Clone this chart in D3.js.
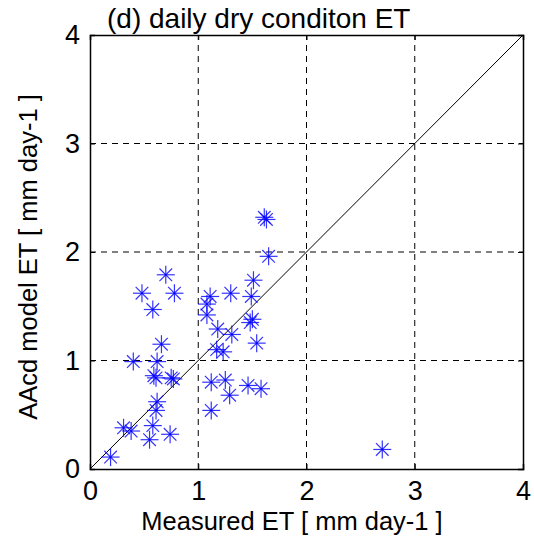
<!DOCTYPE html>
<html>
<head>
<meta charset="utf-8">
<script src="https://cdn.jsdelivr.net/npm/d3@7"></script>
<style>
body { margin: 0; background: #fff; }
text { font-family: "Liberation Sans", Arial, sans-serif; }
</style>
</head>
<body>
<div id="chart"></div>
<script>
var width = 534;
var height = 538;

// Data
var measured = [1.65, 0.70, 1.51, 0.48, 0.78, 1.11, 1.30, 1.49, 1.08, 0.58,
                1.08, 1.50, 1.48, 1.18, 1.31, 0.66, 1.54, 1.17, 1.23, 0.40,
                0.62, 0.59, 0.61, 0.75, 0.77, 1.12, 1.25, 1.46, 1.58, 1.29,
                0.62, 0.61, 1.12, 0.31, 0.38, 0.58, 0.55, 0.74, 0.19, 2.70,
                1.61, 1.63];
var modeled  = [1.96, 1.79, 1.74, 1.62, 1.62, 1.59, 1.62, 1.59, 1.52, 1.47,
                1.42, 1.38, 1.35, 1.29, 1.24, 1.15, 1.16, 1.10, 1.08, 0.99,
                0.99, 0.86, 0.84, 0.84, 0.83, 0.80, 0.82, 0.77, 0.74, 0.68,
                0.62, 0.54, 0.54, 0.38, 0.35, 0.40, 0.27, 0.32, 0.11, 0.18,
                2.32, 2.30];
var tickValues = [0, 1, 2, 3, 4];

var margin = {left: 90, right: 11, top: 35, bottom: 69};

var svg = d3.select("#chart")
    .append("svg")
    .attr("width", width)
    .attr("height", height);

var x = d3.scaleLinear().domain([0, 4]).range([margin.left, width - margin.right]);
var y = d3.scaleLinear().domain([0, 4]).range([height - margin.bottom, margin.top]);

//Grid lines
[1, 2, 3].forEach(function(v) {
    svg.append("line")
        .attr("x1", x(v)).attr("x2", x(v))
        .attr("y1", y(0)).attr("y2", y(4))
        .attr("stroke", "#000").attr("stroke-width", 1)
        .attr("stroke-dasharray", "6,5");
    svg.append("line")
        .attr("x1", x(0)).attr("x2", x(4))
        .attr("y1", y(v)).attr("y2", y(v))
        .attr("stroke", "#000").attr("stroke-width", 1)
        .attr("stroke-dasharray", "6,5");
});

//1:1 line
svg.append("line")
    .attr("x1", x(0)).attr("y1", y(0))
    .attr("x2", x(4)).attr("y2", y(4))
    .attr("stroke", "#000").attr("stroke-width", 1);

//Asterisk markers
var r = 9;
var d = r * 0.7;
var marks = svg.append("g")
    .selectAll("g")
    .data(measured.map(function(v, i) { return [v, modeled[i]]; }))
    .enter().append("g")
    .attr("transform", function(p) { return "translate(" + x(p[0]) + "," + y(p[1]) + ")"; })
    .attr("stroke", "#0000ff")
    .attr("stroke-width", 1.2)
    .attr("stroke-opacity", 0.8);
marks.append("line").attr("x1", -r).attr("x2", r).attr("y1", 0).attr("y2", 0);
marks.append("line").attr("x1", 0).attr("x2", 0).attr("y1", -r).attr("y2", r);
marks.append("line").attr("x1", -d).attr("x2", d).attr("y1", -d).attr("y2", d);
marks.append("line").attr("x1", -d).attr("x2", d).attr("y1", d).attr("y2", -d);

//Axes (inner ticks on all sides)
var fmt = d3.format("d");
var xAxis = d3.axisBottom(x).tickValues(tickValues).tickSize(-5).tickPadding(12).tickFormat(fmt);
var yAxis = d3.axisLeft(y).tickValues(tickValues).tickSize(-5).tickPadding(10).tickFormat(fmt);

var gx = svg.append("g").attr("transform", "translate(0," + y(0) + ")").call(xAxis);
var gy = svg.append("g").attr("transform", "translate(" + x(0) + ",0)").call(yAxis);
var gxt = svg.append("g").attr("transform", "translate(0," + y(4) + ")")
    .call(d3.axisTop(x).tickValues(tickValues).tickSize(-5).tickFormat(""));
var gyr = svg.append("g").attr("transform", "translate(" + x(4) + ",0)")
    .call(d3.axisRight(y).tickValues(tickValues).tickSize(-5).tickFormat(""));

[gx, gy, gxt, gyr].forEach(function(g) {
    g.selectAll(".domain").attr("stroke", "#000").attr("stroke-width", 1.5);
    g.selectAll(".tick line").attr("stroke", "#000");
    g.selectAll("text")
        .attr("fill", "#000")
        .style("font-family", "'Liberation Sans', Arial, sans-serif")
        .style("font-size", "27px");
});

//Title and labels
svg.append("text")
    .attr("x", 107)
    .attr("y", 28)
    .style("font-size", "28px")
    .text("(d) daily dry conditon ET");

svg.append("text")
    .attr("x", 292)
    .attr("y", 530)
    .attr("text-anchor", "middle")
    .style("font-size", "25.5px")
    .text("Measured ET [ mm day-1 ]");

svg.append("text")
    .attr("transform", "translate(37,257) rotate(-90)")
    .attr("text-anchor", "middle")
    .style("font-size", "25.5px")
    .text("AAcd model ET [ mm day-1 ]");
</script>
</body>
</html>
